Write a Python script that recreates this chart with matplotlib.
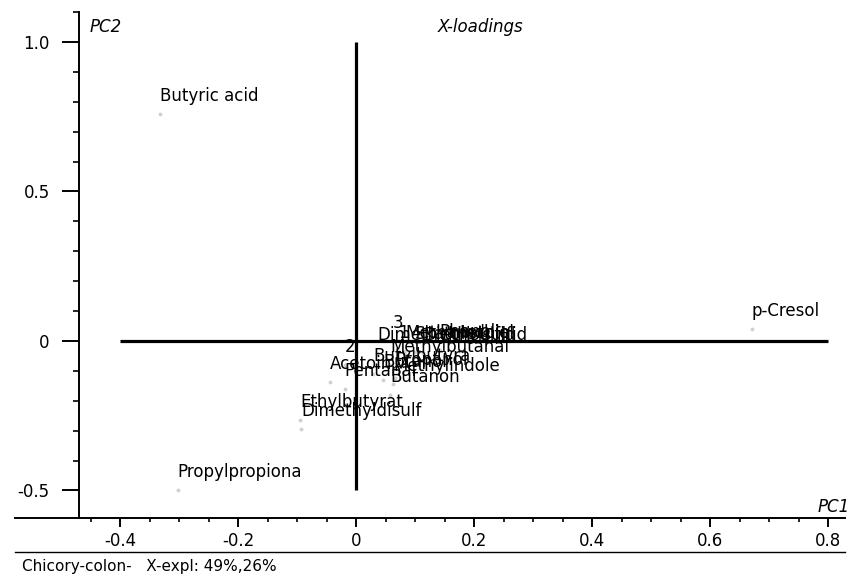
import matplotlib
matplotlib.use("Agg")
import matplotlib.pyplot as plt
from matplotlib.ticker import MultipleLocator, FixedFormatter, FixedLocator

# X-loadings, PC1 / PC2
names = ["Butyric acid", "Propylpropiona", "p-Cresol", "Ethylbutyrat", "Dimethyldisulf",
         "3", "2", "1", "Dimethyltrisulfid", "Methanethiol", "Skatole", "Phenol", "Indole",
         "Diethylsulfid", "Methylbutanal", "Butylbutyra", "Acetoin", "Pentanal",
         "Methylindole", "Butanon", "Propanol", "Butanol"]
pc1 = [-0.332, -0.302, 0.671, -0.095, -0.093,
       0.063, -0.019, 0.071, 0.036, 0.083, 0.100, 0.142, 0.176,
       0.114, 0.058, 0.029, -0.044, -0.019,
       0.063, 0.058, 0.066, 0.046]
pc2 = [0.759, -0.498, 0.040, -0.264, -0.294,
       0.0, -0.080, -0.033, -0.040, -0.033, -0.037, -0.030, -0.033,
       -0.040, -0.080, -0.110, -0.137, -0.161,
       -0.144, -0.181, -0.124, -0.130]

xticks = [-0.4, -0.2, 0, 0.2, 0.4, 0.6, 0.8]
xticklabels = ["-0.4", "-0.2", "0", "0.2", "0.4", "0.6", "0.8"]
yticks = [-0.5, 0, 0.5, 1.0]
yticklabels = ["-0.5", "0", "0.5", "1.0"]

plt.rcParams['font.family'] = 'DejaVu Sans'
FS = 12

W, H = 854, 579
fig = plt.figure(figsize=(W / 100, H / 100), dpi=100)
ax = fig.add_axes([79 / W, 1 - 518 / H, (845 - 79) / W, (518 - 12) / H])

x0, x1 = -0.4695, 0.8288
y0, y1 = -0.592, 1.1003

# cross lines
ax.plot([-0.4, 0.8], [0, 0], color='black', lw=2.3, solid_capstyle='butt')
ax.plot([0, 0], [-0.5, 1.0], color='black', lw=2.3, solid_capstyle='butt')

# faint points and labels
ax.scatter(pc1, pc2, s=3, color='#d0d0d0', zorder=1)
for n, x, y in zip(names, pc1, pc2):
    ax.annotate(n, (x, y), xytext=(0, 13), textcoords='offset pixels',
                ha='left', va='baseline', fontsize=FS, color='black')

ax.set_xlim(x0, x1)
ax.set_ylim(y0, y1)

for s in ['top', 'right']:
    ax.spines[s].set_visible(False)
ax.spines['left'].set_linewidth(1.4)
ax.spines['bottom'].set_linewidth(1.4)

ax.xaxis.set_major_locator(FixedLocator(xticks))
ax.xaxis.set_major_formatter(FixedFormatter(xticklabels))
ax.xaxis.set_minor_locator(MultipleLocator(0.05))
ax.yaxis.set_major_locator(FixedLocator(yticks))
ax.yaxis.set_major_formatter(FixedFormatter(yticklabels))
ax.yaxis.set_minor_locator(MultipleLocator(0.1))

ax.tick_params(axis='x', which='major', length=6.5, width=1.4, pad=3.5, labelsize=FS)
ax.tick_params(axis='x', which='minor', length=3, width=1.2)
ax.tick_params(axis='y', which='major', length=12, width=1.4, pad=9, labelsize=FS)
ax.tick_params(axis='y', which='minor', length=4.3, width=1.2)

# x axis line extends left of the y axis
ax.plot([15 / W, 79 / W], [1 - 518 / H, 1 - 518 / H], transform=fig.transFigure,
        color='black', lw=1.4, clip_on=False)
# separator line above footer
fig.add_artist(plt.Line2D([15 / W, 845 / W], [1 - 552 / H, 1 - 552 / H],
                          transform=fig.transFigure, color='black', lw=1.0))

fig.text(90 / W, 1 - 32 / H, "PC2", fontsize=FS, style='italic', va='baseline')
fig.text(438 / W, 1 - 32 / H, "X-loadings", fontsize=FS, style='italic', va='baseline')
fig.text(818 / W, 1 - 512 / H, "PC1", fontsize=FS, style='italic', va='baseline')
fig.text(22 / W, 1 - 571 / H, "Chicory-colon-   X-expl: 49%,26%", fontsize=FS - 1, va='baseline')

fig.savefig("out.png", dpi=100)
